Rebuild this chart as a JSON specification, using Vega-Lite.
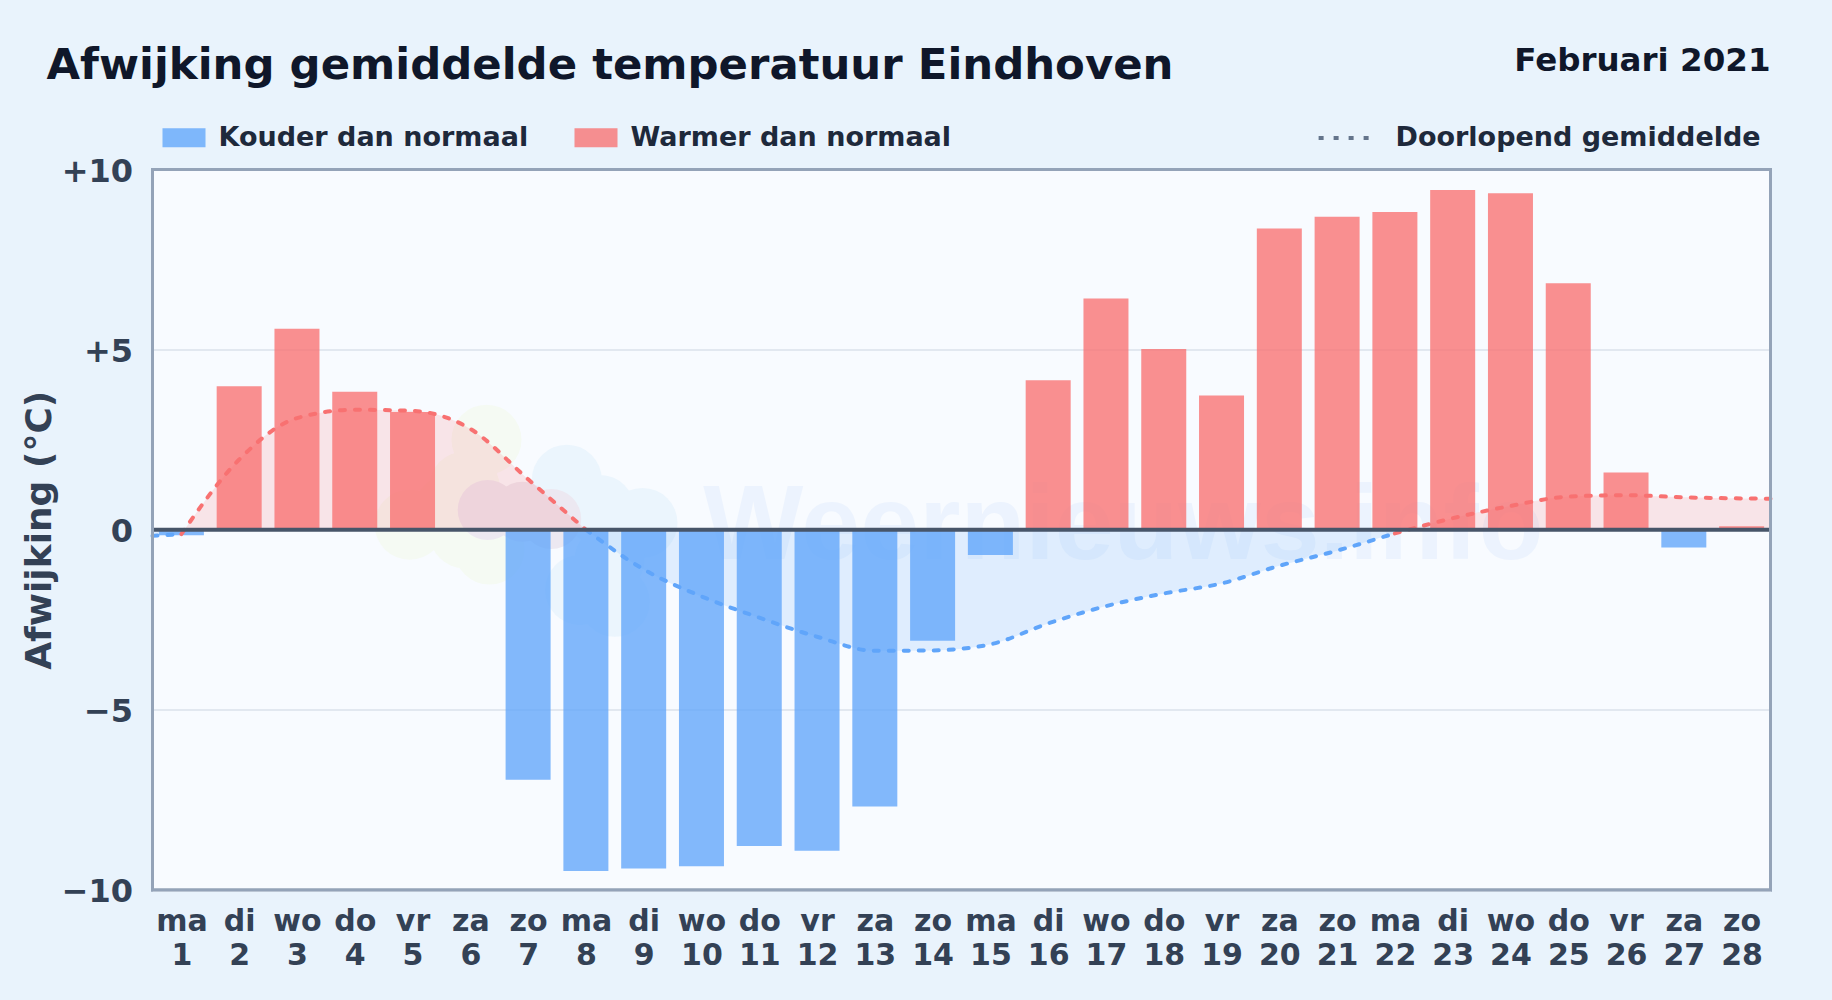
{
"$schema":"https://vega.github.io/schema/vega-lite/v6.json",
"width":1618,"height":720.5,
"autosize":{"type":"none"},
"padding":{"left":152.5,"top":169.5,"right":61,"bottom":110},
"background":"#e9f3fc",
"view":{"fill":"#f8fbff","stroke":"#94a3b8","strokeWidth":3},
"title":{"text":"Afwijking gemiddelde temperatuur Eindhoven","anchor":"start","frame":"group","dx":-106,"offset":-43,"fontSize":43.4,"font":"DejaVu Sans","fontWeight":"bold","color":"#0f172a"},
"config":{"font":"DejaVu Sans"},
"datasets":{
"dagen":[
{"dag":1,"afwijking":-0.15,"soort":"Kouder dan normaal"},
{"dag":2,"afwijking":3.98,"soort":"Warmer dan normaal"},
{"dag":3,"afwijking":5.58,"soort":"Warmer dan normaal"},
{"dag":4,"afwijking":3.83,"soort":"Warmer dan normaal"},
{"dag":5,"afwijking":3.27,"soort":"Warmer dan normaal"},
{"dag":6,"afwijking":0,"soort":"Warmer dan normaal"},
{"dag":7,"afwijking":-6.94,"soort":"Kouder dan normaal"},
{"dag":8,"afwijking":-9.47,"soort":"Kouder dan normaal"},
{"dag":9,"afwijking":-9.4,"soort":"Kouder dan normaal"},
{"dag":10,"afwijking":-9.34,"soort":"Kouder dan normaal"},
{"dag":11,"afwijking":-8.78,"soort":"Kouder dan normaal"},
{"dag":12,"afwijking":-8.91,"soort":"Kouder dan normaal"},
{"dag":13,"afwijking":-7.68,"soort":"Kouder dan normaal"},
{"dag":14,"afwijking":-3.08,"soort":"Kouder dan normaal"},
{"dag":15,"afwijking":-0.7,"soort":"Kouder dan normaal"},
{"dag":16,"afwijking":4.15,"soort":"Warmer dan normaal"},
{"dag":17,"afwijking":6.42,"soort":"Warmer dan normaal"},
{"dag":18,"afwijking":5.02,"soort":"Warmer dan normaal"},
{"dag":19,"afwijking":3.73,"soort":"Warmer dan normaal"},
{"dag":20,"afwijking":8.36,"soort":"Warmer dan normaal"},
{"dag":21,"afwijking":8.69,"soort":"Warmer dan normaal"},
{"dag":22,"afwijking":8.82,"soort":"Warmer dan normaal"},
{"dag":23,"afwijking":9.43,"soort":"Warmer dan normaal"},
{"dag":24,"afwijking":9.34,"soort":"Warmer dan normaal"},
{"dag":25,"afwijking":6.84,"soort":"Warmer dan normaal"},
{"dag":26,"afwijking":1.59,"soort":"Warmer dan normaal"},
{"dag":27,"afwijking":-0.49,"soort":"Kouder dan normaal"},
{"dag":28,"afwijking":0.1,"soort":"Warmer dan normaal"}
],
"gemiddelde":[
{"dag":0.5,"waarde":-0.17,"deel":"a","soort":"Kouder dan normaal","reeks":"Doorlopend gemiddelde"},
{"dag":1,"waarde":-0.12,"deel":"a","soort":"Kouder dan normaal","reeks":"Doorlopend gemiddelde"},
{"dag":1,"waarde":-0.12,"deel":"b","soort":"Warmer dan normaal","reeks":"Doorlopend gemiddelde"},
{"dag":2,"waarde":1.95,"deel":"b","soort":"Warmer dan normaal","reeks":"Doorlopend gemiddelde"},
{"dag":3,"waarde":3.1,"deel":"b","soort":"Warmer dan normaal","reeks":"Doorlopend gemiddelde"},
{"dag":4,"waarde":3.33,"deel":"b","soort":"Warmer dan normaal","reeks":"Doorlopend gemiddelde"},
{"dag":5,"waarde":3.3,"deel":"b","soort":"Warmer dan normaal","reeks":"Doorlopend gemiddelde"},
{"dag":6,"waarde":2.8,"deel":"b","soort":"Warmer dan normaal","reeks":"Doorlopend gemiddelde"},
{"dag":7,"waarde":1.4,"deel":"b","soort":"Warmer dan normaal","reeks":"Doorlopend gemiddelde"},
{"dag":8,"waarde":0,"deel":"b","soort":"Warmer dan normaal","reeks":"Doorlopend gemiddelde"},
{"dag":8,"waarde":0,"deel":"c","soort":"Kouder dan normaal","reeks":"Doorlopend gemiddelde"},
{"dag":9,"waarde":-1.1,"deel":"c","soort":"Kouder dan normaal","reeks":"Doorlopend gemiddelde"},
{"dag":10,"waarde":-1.85,"deel":"c","soort":"Kouder dan normaal","reeks":"Doorlopend gemiddelde"},
{"dag":11,"waarde":-2.44,"deel":"c","soort":"Kouder dan normaal","reeks":"Doorlopend gemiddelde"},
{"dag":12,"waarde":-2.97,"deel":"c","soort":"Kouder dan normaal","reeks":"Doorlopend gemiddelde"},
{"dag":13,"waarde":-3.36,"deel":"c","soort":"Kouder dan normaal","reeks":"Doorlopend gemiddelde"},
{"dag":14,"waarde":-3.35,"deel":"c","soort":"Kouder dan normaal","reeks":"Doorlopend gemiddelde"},
{"dag":15,"waarde":-3.18,"deel":"c","soort":"Kouder dan normaal","reeks":"Doorlopend gemiddelde"},
{"dag":16,"waarde":-2.6,"deel":"c","soort":"Kouder dan normaal","reeks":"Doorlopend gemiddelde"},
{"dag":17,"waarde":-2.12,"deel":"c","soort":"Kouder dan normaal","reeks":"Doorlopend gemiddelde"},
{"dag":18,"waarde":-1.77,"deel":"c","soort":"Kouder dan normaal","reeks":"Doorlopend gemiddelde"},
{"dag":19,"waarde":-1.49,"deel":"c","soort":"Kouder dan normaal","reeks":"Doorlopend gemiddelde"},
{"dag":20,"waarde":-1.0,"deel":"c","soort":"Kouder dan normaal","reeks":"Doorlopend gemiddelde"},
{"dag":21,"waarde":-0.58,"deel":"c","soort":"Kouder dan normaal","reeks":"Doorlopend gemiddelde"},
{"dag":22,"waarde":-0.1,"deel":"c","soort":"Kouder dan normaal","reeks":"Doorlopend gemiddelde"},
{"dag":22,"waarde":-0.1,"deel":"d","soort":"Warmer dan normaal","reeks":"Doorlopend gemiddelde"},
{"dag":23,"waarde":0.32,"deel":"d","soort":"Warmer dan normaal","reeks":"Doorlopend gemiddelde"},
{"dag":24,"waarde":0.66,"deel":"d","soort":"Warmer dan normaal","reeks":"Doorlopend gemiddelde"},
{"dag":25,"waarde":0.92,"deel":"d","soort":"Warmer dan normaal","reeks":"Doorlopend gemiddelde"},
{"dag":26,"waarde":0.96,"deel":"d","soort":"Warmer dan normaal","reeks":"Doorlopend gemiddelde"},
{"dag":27,"waarde":0.9,"deel":"d","soort":"Warmer dan normaal","reeks":"Doorlopend gemiddelde"},
{"dag":28,"waarde":0.87,"deel":"d","soort":"Warmer dan normaal","reeks":"Doorlopend gemiddelde"},
{"dag":28.5,"waarde":0.86,"deel":"d","soort":"Warmer dan normaal","reeks":"Doorlopend gemiddelde"}
]
},
"encoding":{
"x":{"type":"quantitative","scale":{"domain":[0.5,28.5],"nice":false,"zero":false,"padding":0}},
"y":{"type":"quantitative","scale":{"domain":[-10,10],"nice":false,"padding":0}}
},
"layer":[
{"data":{"values":[{"dag":6.28,"y":2.5},{"dag":5.9,"y":1.2},{"dag":5.64,"y":0.55},{"dag":4.95,"y":0.14},{"dag":6.33,"y":-0.55},{"dag":5.9,"y":-0.1}]},
 "mark":{"type":"point","filled":true,"opacity":1,"color":"#f5faf3","size":4900,"clip":true},
 "encoding":{"x":{"field":"dag","type":"quantitative","axis":{"values":[1,2,3,4,5,6,7,8,9,10,11,12,13,14,15,16,17,18,19,20,21,22,23,24,25,26,27,28],"title":null,"grid":false,"ticks":false,"domain":false,"labelFontSize":30,"labelFontWeight":"bold","labelColor":"#334155","labelFont":"DejaVu Sans","labelPadding":16,"labelLineHeight":34,"labelOverlap":false,"labelFlush":false,"labelBound":false,"labelExpr":"[['ma','di','wo','do','vr','za','zo'][(datum.value-1)%7], ''+datum.value]"}},
 "y":{"field":"y","type":"quantitative","axis":{"values":[-10,-5,0,5,10],"title":"Afwijking (°C)","titleFontSize":36,"titleFontWeight":"bold","titleColor":"#334155","titlePadding":3,"titleFont":"DejaVu Sans","grid":true,"gridColor":"#e2e8f0","gridWidth":2,"ticks":false,"domain":false,"labelFontSize":32,"labelFontWeight":"bold","labelColor":"#334155","labelFont":"DejaVu Sans","labelPadding":20,"labelOffset":1.5,"labelExpr":"datum.value>0?'+'+datum.value:(datum.value<0?'−'+abs(datum.value):'0')"}}}},
{"data":{"values":[{"dag":7.67,"y":1.39},{"dag":8.24,"y":0.55},{"dag":8.98,"y":0.19},{"dag":8.41,"y":-0.83},{"dag":7.9,"y":-1.67},{"dag":8.5,"y":-2.0}]},
 "mark":{"type":"point","filled":true,"opacity":1,"color":"#ebf5fd","size":4900,"clip":true},
 "encoding":{"x":{"field":"dag","type":"quantitative"},"y":{"field":"y","type":"quantitative"}}},
{"data":{"values":[{"dag":6.3,"y":0.55},{"dag":6.9,"y":0.5},{"dag":7.4,"y":0.3}]},
 "mark":{"type":"point","filled":true,"opacity":1,"color":"#ece8f1","size":3600,"clip":true},
 "encoding":{"x":{"field":"dag","type":"quantitative"},"y":{"field":"y","type":"quantitative"}}},
{"data":{"values":[{"dag":17.3,"y":0.08,"tekst":"Weernieuws.info"}]},
 "mark":{"type":"text","font":"Liberation Sans","fontWeight":"bold","fontSize":106,"color":"#3b82f6","opacity":0.06,"align":"center","baseline":"middle"},
 "encoding":{"x":{"field":"dag","type":"quantitative"},"y":{"field":"y","type":"quantitative"},"text":{"field":"tekst"}}},
{"data":{"name":"gemiddelde"},
 "mark":{"type":"area","fillOpacity":0.16,"interpolate":"monotone"},
 "encoding":{"x":{"field":"dag","type":"quantitative"},"y":{"field":"waarde","type":"quantitative"},"y2":{"datum":0},"detail":{"field":"deel"},"color":{"field":"soort","type":"nominal"}}},
{"data":{"name":"dagen"},
 "mark":{"type":"bar","width":45,"fillOpacity":0.78,"orient":"vertical"},
 "encoding":{"x":{"field":"dag","type":"quantitative"},"y":{"field":"afwijking","type":"quantitative"},
 "color":{"field":"soort","type":"nominal","scale":{"domain":["Kouder dan normaal","Warmer dan normaal"],"range":["#60a5fa","#f87171"]},
 "legend":{"orient":"none","legendX":10,"legendY":-53.5,"direction":"horizontal","columns":2,"title":null,"symbolType":"M-1,-0.44H1V0.44H-1Z","symbolSize":1849,"symbolStrokeWidth":0,"symbolOpacity":0.78,"labelFontSize":27,"labelFontWeight":"bold","labelColor":"#1e293b","labelFont":"DejaVu Sans","labelOffset":13,"labelLimit":400,"columnPadding":46}}}},
{"data":{"name":"gemiddelde"},
 "mark":{"type":"line","strokeWidth":4,"strokeCap":"round","interpolate":"monotone"},
 "encoding":{"x":{"field":"dag","type":"quantitative"},"y":{"field":"waarde","type":"quantitative"},"detail":{"field":"deel"},"color":{"field":"soort","type":"nominal"},
 "strokeDash":{"field":"reeks","type":"nominal","scale":{"domain":["Doorlopend gemiddelde"],"range":[[5,10]]},
 "legend":{"orient":"none","legendX":1164,"legendY":-61,"title":null,"symbolType":"stroke","symbolSize":3000,"symbolStrokeColor":"#64748b","symbolStrokeWidth":4,"labelFontSize":27,"labelFontWeight":"bold","labelColor":"#1e293b","labelFont":"DejaVu Sans","labelOffset":20,"labelLimit":500}}}},
{"data":{"values":[{"nul":0}]},
 "mark":{"type":"rule","color":"#475569","strokeWidth":4},
 "encoding":{"y":{"field":"nul","type":"quantitative"}}},
{"data":{"values":[{"dag":0.5,"eind":28.5,"y":-10,"y2":10}]},
 "mark":{"type":"rect","filled":false,"stroke":"#94a3b8","strokeWidth":3,"clip":false},
 "encoding":{"x":{"field":"dag","type":"quantitative"},"x2":{"field":"eind"},"y":{"field":"y","type":"quantitative"},"y2":{"field":"y2"}}},
{"data":{"values":[{"dag":28.5,"y":13.0,"tekst":"Februari 2021"}]},
 "mark":{"type":"text","font":"DejaVu Sans","fontWeight":"bold","fontSize":32.5,"color":"#0f172a","align":"right","baseline":"middle","clip":false},
 "encoding":{"x":{"field":"dag","type":"quantitative"},"y":{"field":"y","type":"quantitative"},"text":{"field":"tekst"}}}
]
}
